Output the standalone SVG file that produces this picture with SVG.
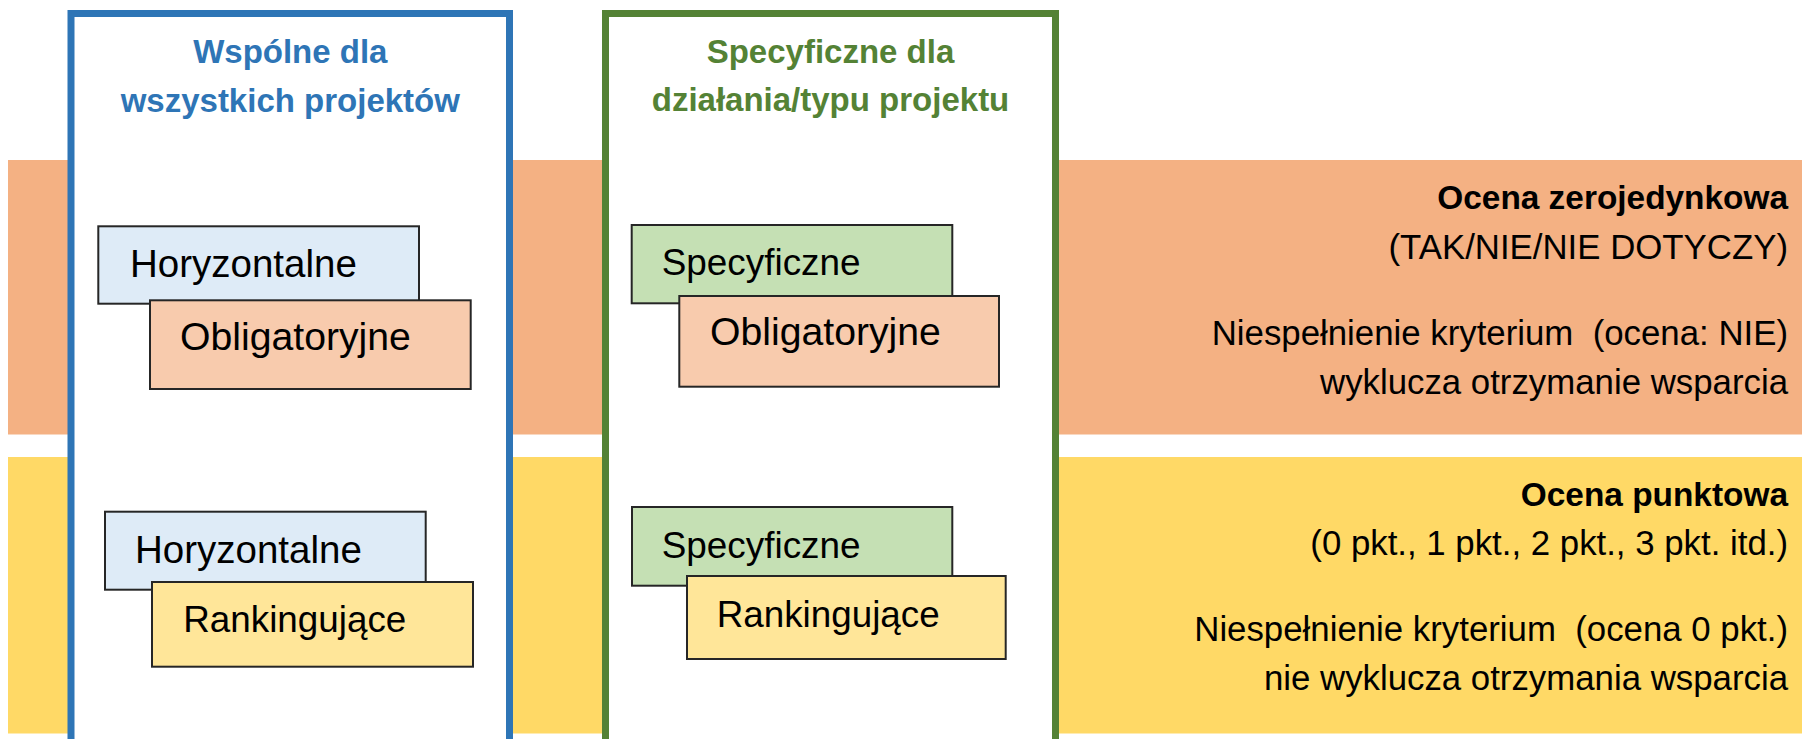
<svg xmlns="http://www.w3.org/2000/svg" width="1802" height="739" viewBox="0 0 1802 739">
  <style>
    .band-o { fill: #F4B183; }
    .band-y { fill: #FFD966; }
    .frame { fill: #FFFFFF; stroke-width: 7; }
    .frame-blue { stroke: #2E75B6; }
    .frame-green { stroke: #548235; }
    .hdr { font-family: "Liberation Sans", Arial, sans-serif; font-weight: bold; font-size: 33px; text-anchor: middle; }
    .hdr-blue { fill: #2E75B6; }
    .hdr-green { fill: #548235; }
    .box { stroke: #262626; stroke-width: 2; }
    .f-hor { fill: #DEEBF7; }
    .f-obl { fill: #F8CBAD; }
    .f-spe { fill: #C5E0B4; }
    .f-ran { fill: #FFE699; }
    .lbl { font-family: "Liberation Sans", Arial, sans-serif; font-size: 37.5px; fill: #000000; }
    .t-hor { font-size: 38.5px; }
    .t-obl { font-size: 39.2px; }
    .t-spe { font-size: 36.9px; }
    .t-ran { font-size: 36.8px; }
    .side { font-family: "Liberation Sans", Arial, sans-serif; font-size: 34.8px; fill: #000000; text-anchor: end; }
    .side-b { font-weight: bold; font-size: 33.4px; }
  </style>

  <rect width="1802" height="739" fill="#FFFFFF"/>

  <g id="bands">
    <rect id="band-zerojedynkowa" class="band-o" x="8" y="160" width="1794" height="274.5"/>
    <rect id="band-punktowa" class="band-y" x="8" y="457" width="1794" height="276.5"/>
  </g>

  <g id="frame-wspolne">
    <rect class="frame frame-blue" x="71" y="13.5" width="438.5" height="760"/>
    <text class="hdr hdr-blue" x="290.3" y="62.5">Wspólne dla</text>
    <text class="hdr hdr-blue" x="290.3" y="111.5">wszystkich projektów</text>
  </g>

  <g id="frame-specyficzne">
    <rect class="frame frame-green" x="605.5" y="13.5" width="450" height="760"/>
    <text class="hdr hdr-green" x="830.5" y="62.5">Specyficzne dla</text>
    <text class="hdr hdr-green" x="830.5" y="111">działania/typu projektu</text>
  </g>

  <g id="connectors"></g>

  <g id="node-horyzontalne-1">
    <rect class="box f-hor" x="98.3" y="226.3" width="320.7" height="77.4"/>
    <text class="lbl t-hor" x="130" y="276.7">Horyzontalne</text>
  </g>
  <g id="node-obligatoryjne-1">
    <rect class="box f-obl" x="150" y="300.3" width="320.7" height="88.7"/>
    <text class="lbl t-obl" x="180" y="350">Obligatoryjne</text>
  </g>

  <g id="node-specyficzne-1">
    <rect class="box f-spe" x="631.7" y="225" width="320.6" height="78.3"/>
    <text class="lbl t-spe" x="661.7" y="275">Specyficzne</text>
  </g>
  <g id="node-obligatoryjne-2">
    <rect class="box f-obl" x="679.3" y="296" width="319.7" height="90.7"/>
    <text class="lbl t-obl" x="710" y="345">Obligatoryjne</text>
  </g>

  <g id="node-horyzontalne-2">
    <rect class="box f-hor" x="105" y="511.7" width="320.7" height="78"/>
    <text class="lbl t-hor" x="135" y="562.7">Horyzontalne</text>
  </g>
  <g id="node-rankingujace-1">
    <rect class="box f-ran" x="152" y="582" width="321" height="84.7"/>
    <text class="lbl t-ran" x="183.3" y="631.7">Rankingujące</text>
  </g>

  <g id="node-specyficzne-2">
    <rect class="box f-spe" x="632" y="507" width="320.3" height="78.7"/>
    <text class="lbl t-spe" x="661.7" y="558.3">Specyficzne</text>
  </g>
  <g id="node-rankingujace-2">
    <rect class="box f-ran" x="687" y="576" width="318.7" height="83"/>
    <text class="lbl t-ran" x="716.7" y="626.7">Rankingujące</text>
  </g>

  <g id="label-zerojedynkowa">
    <text class="side side-b" x="1788" y="208.7">Ocena zerojedynkowa</text>
    <text class="side" x="1788" y="259">(TAK/NIE/NIE DOTYCZY)</text>
    <text class="side" x="1788" y="345" xml:space="preserve">Niespełnienie kryterium  (ocena: NIE)</text>
    <text class="side" x="1788" y="394">wyklucza otrzymanie wsparcia</text>
  </g>

  <g id="label-punktowa">
    <text class="side side-b" x="1788" y="505.6">Ocena punktowa</text>
    <text class="side" x="1788" y="555">(0 pkt., 1 pkt., 2 pkt., 3 pkt. itd.)</text>
    <text class="side" x="1788" y="640.8" xml:space="preserve">Niespełnienie kryterium  (ocena 0 pkt.)</text>
    <text class="side" x="1788" y="689.6">nie wyklucza otrzymania wsparcia</text>
  </g>
</svg>
